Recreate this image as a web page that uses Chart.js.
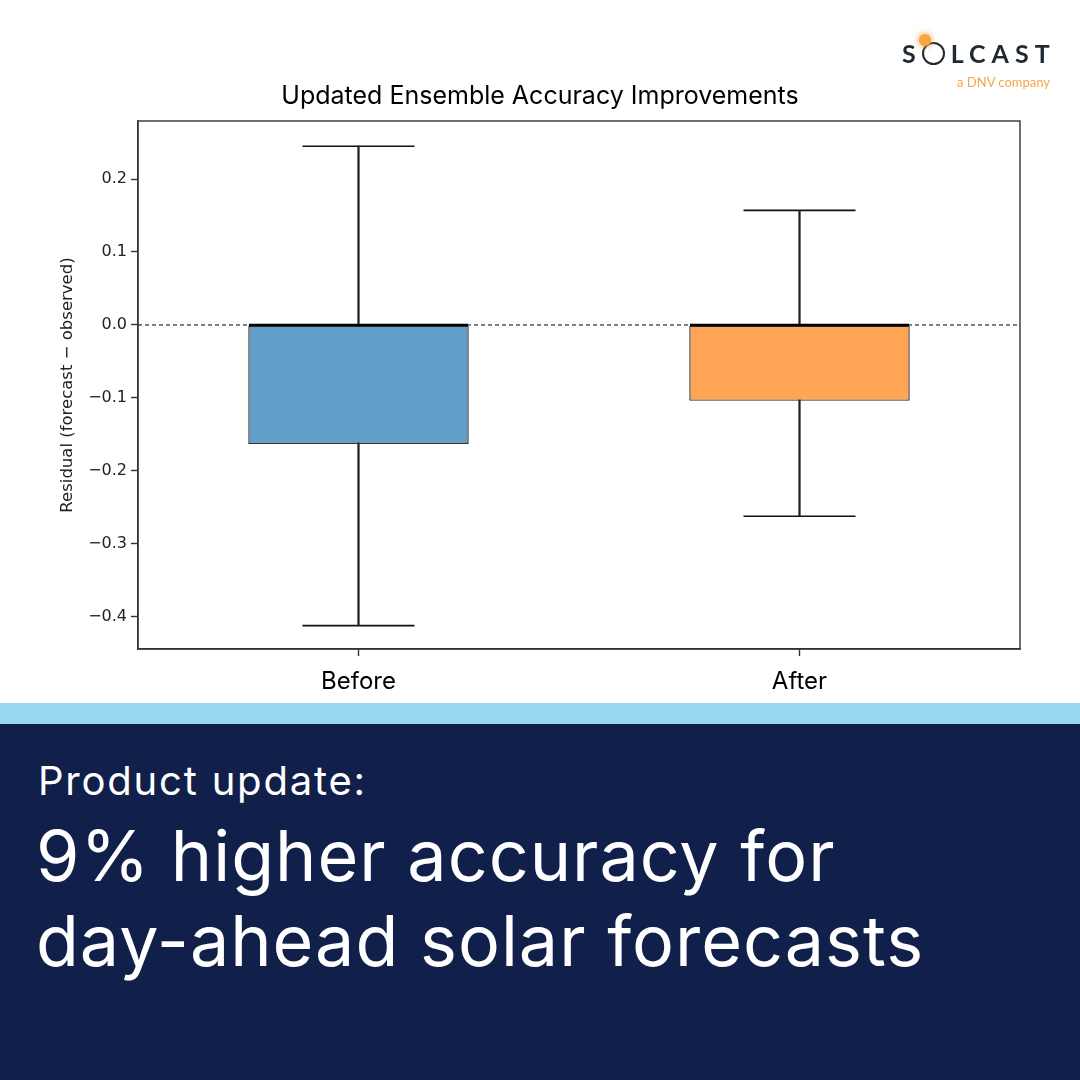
<!DOCTYPE html>
<html>
<head>
<meta charset="utf-8">
<script src="https://cdn.jsdelivr.net/npm/chart.js@4.4.1/dist/chart.umd.min.js"></script>
<style>
  html, body { margin: 0; padding: 0; background: #ffffff; }
  .page { position: relative; width: 1080px; height: 1080px; overflow: hidden; background: #ffffff; }
  .chart-wrap { position: absolute; left: 0; top: 0; width: 1080px; height: 703px; }
  .band { position: absolute; left: 0; top: 703px; width: 1080px; height: 21px; background: #99d9f0; }
  .footer { position: absolute; left: 0; top: 724px; width: 1080px; height: 356px; background: #10204b; }
  .kicker { position: absolute; left: 38px; top: 761px; font-family: Inter, sans-serif; font-size: 40px; line-height: 40px; color: #ffffff; letter-spacing: 1.8px; }
  .headline { position: absolute; left: 36px; top: 813px; font-family: Inter, sans-serif; font-size: 70px; line-height: 85px; color: #ffffff; letter-spacing: 1.0px; }
  .logo { position: absolute; left: 902px; top: 38px; width: 150px; font-family: Lato, sans-serif; color: #1f2a33; }
  .logo .word { font-size: 25px; font-weight: 700; letter-spacing: 6px; line-height: 30px; white-space: nowrap; }
  .logo .o { display: inline-block; width: 19px; height: 19px; border: 2.5px solid #1f2a33; border-radius: 50%; vertical-align: -2px; margin: 0 6px 0 0; position: relative; }
  .logo .sun { position: absolute; left: -5px; top: -10px; width: 12px; height: 12px; border-radius: 50%; background: #f6a53f; box-shadow: 0 0 5px 2px rgba(246,165,63,0.55); }
  .logo .tag { font-size: 13px; color: #f5a54a; text-align: right; margin-top: 6px; padding-right: 2px; }
</style>
</head>
<body>
<div class="page">
  <div class="chart-wrap"><canvas id="boxChart"></canvas></div>
  <div class="logo">
    <div class="word">S<span class="o"><span class="sun"></span></span>LCAST</div>
    <div class="tag">a DNV company</div>
  </div>
  <div class="band"></div>
  <div class="footer"></div>
  <div class="kicker">Product update:</div>
  <div class="headline">9% higher accuracy for<br>day-ahead solar forecasts</div>
</div>
<script>
const categories = ['Before', 'After'];
const whiskerLow = [-0.412, -0.262];
const boxLow = [-0.163, -0.104];
const medianValues = [0.0, 0.0];
const boxHigh = [0.0, 0.0];
const whiskerHigh = [0.245, 0.157];
const yTickValues = [0.2, 0.1, 0.0, -0.1, -0.2, -0.3, -0.4];
const referenceLine = 0;
const boxColors = ['#62a0ca', '#ffa556'];

// line controller for the caps / median strokes: the long 'line' point style
// should not push the chart area inwards
class CapController extends Chart.LineController {
  getMaxOverflow() {
    return 0;
  }
}
CapController.id = 'cap';
CapController.defaults = Chart.LineController.defaults;
Chart.register(CapController);

// dashed zero line behind the boxes, plus the closed frame around the plot
const framePlugin = {
  id: 'frame',
  beforeDatasetsDraw(chart) {
    const { ctx, chartArea, scales } = chart;
    const y = scales.y.getPixelForValue(referenceLine);
    ctx.save();
    ctx.strokeStyle = '#000';
    ctx.lineWidth = 1;
    ctx.setLineDash([4, 3]);
    ctx.beginPath();
    ctx.moveTo(chartArea.left, y);
    ctx.lineTo(chartArea.right, y);
    ctx.stroke();
    ctx.restore();
  },
  afterDatasetsDraw(chart) {
    const { ctx, chartArea } = chart;
    ctx.save();
    ctx.strokeStyle = '#333';
    ctx.lineWidth = 1.4;
    ctx.strokeRect(chartArea.left, chartArea.top, chartArea.right - chartArea.left, chartArea.bottom - chartArea.top);
    ctx.restore();
  },
};

const capStyle = {
  type: 'cap',
  showLine: false,
  pointStyle: 'line',
  pointRadius: 56,
  pointHoverRadius: 56,
  pointBorderWidth: 1.6,
  borderColor: '#111',
};

document.addEventListener('DOMContentLoaded', () => {
  const ctx = document.getElementById('boxChart');

  new Chart(ctx, {
    type: 'bar',
    data: {
      labels: categories,
      datasets: [
        {
          label: 'Median',
          type: 'cap',
          data: medianValues,
          showLine: false,
          pointStyle: 'line',
          pointRadius: 109.5,
          pointHoverRadius: 109.5,
          pointBorderWidth: 2.4,
          borderColor: '#000',
          order: 0,
        },
        {
          label: 'IQR',
          data: boxLow.map((low, i) => [low, boxHigh[i]]),
          backgroundColor: boxColors,
          borderColor: '#333',
          borderWidth: 1.4,
          borderSkipped: false,
          barPercentage: 0.5,
          categoryPercentage: 1,
          grouped: false,
          order: 1,
        },
        {
          label: 'Whisker',
          data: whiskerLow.map((low, i) => [low, whiskerHigh[i]]),
          backgroundColor: '#222',
          barThickness: 1.6,
          grouped: false,
          order: 2,
        },
        { ...capStyle, label: 'Lower cap', data: whiskerLow, order: 3 },
        { ...capStyle, label: 'Upper cap', data: whiskerHigh, order: 4 },
      ],
    },
    options: {
      responsive: true,
      maintainAspectRatio: false,
      animation: false,
      layout: {
        padding: 0,
      },
      scales: {
        x: {
          grid: {
            offset: false,
            drawOnChartArea: false,
            tickLength: 7,
            tickColor: '#333',
            tickWidth: 1.4,
          },
          border: { color: '#333', width: 1.4 },
          ticks: {
            color: '#000',
            padding: 11,
            font: { family: 'Inter', size: 24 },
          },
          afterFit: (scale) => {
            scale.height = 54;
          },
        },
        y: {
          min: -0.444,
          max: 0.2795,
          grid: {
            drawOnChartArea: false,
            tickLength: 7,
            tickColor: '#333',
            tickWidth: 1.4,
          },
          border: { color: '#333', width: 1.4 },
          afterBuildTicks: (scale) => {
            scale.ticks = yTickValues.map((value) => ({ value }));
          },
          ticks: {
            color: '#222',
            padding: 4,
            font: { family: 'DejaVu Sans', size: 16 },
            callback: (value) => (value < -1e-9 ? '\u2212' : '') + Math.abs(value).toFixed(1),
          },
          title: {
            display: true,
            text: 'Residual (forecast \u2212 observed)',
            color: '#222',
            font: { family: 'DejaVu Sans', size: 16.5 },
            padding: { top: 58, bottom: 0 },
          },
          afterFit: (scale) => {
            scale.width = 138;
          },
        },
        // empty right-hand axis, only reserves the white margin right of the plot
        yRight: {
          position: 'right',
          display: true,
          grid: { display: false },
          border: { display: false },
          ticks: { display: false },
          afterFit: (scale) => {
            scale.width = 60;
          },
        },
      },
      plugins: {
        legend: { display: false },
        tooltip: { enabled: false },
        title: {
          display: true,
          text: 'Updated Ensemble Accuracy Improvements',
          color: '#000',
          font: { family: 'Inter', size: 25, weight: 'normal' },
          padding: { top: 81, bottom: 10 },
        },
      },
    },
    plugins: [framePlugin],
  });
});
</script>
</body>
</html>
